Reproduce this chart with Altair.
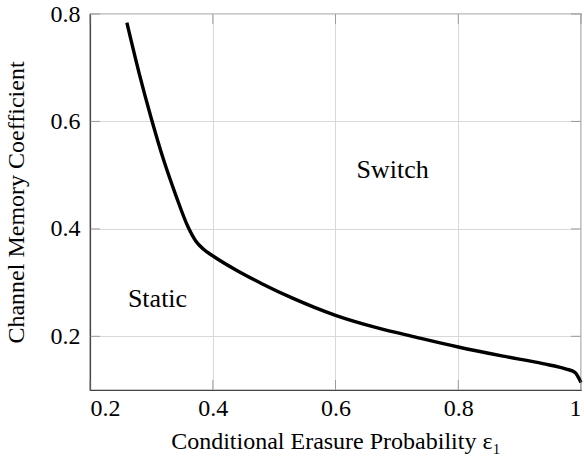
import altair as alt
import pandas as pd

# Curve data
eps1 = [0.26, 0.28, 0.30, 0.32, 0.34, 0.36, 0.372, 0.385, 0.401, 0.44, 0.48,
        0.53, 0.60, 0.667, 0.732, 0.80, 0.873, 0.938, 0.976, 0.99, 1.0]
memory = [0.784, 0.69, 0.605, 0.528, 0.462, 0.403, 0.378, 0.362, 0.349, 0.322, 0.298,
          0.271, 0.239, 0.216, 0.198, 0.180, 0.163, 0.149, 0.139, 0.133, 0.114]

region_labels = ["Switch", "Static"]
region_x = [0.693, 0.31]
region_y = [0.51, 0.27]

x_ticks = [0.2, 0.4, 0.6, 0.8, 1.0]
y_ticks = [0.2, 0.4, 0.6, 0.8]

W, H = 491, 376
FONT = "'Liberation Serif', 'Times New Roman', Times, serif"

curve = pd.DataFrame({"x": eps1, "y": memory})
labels = pd.DataFrame({"label": region_labels, "x": region_x, "y": region_y})
xt = pd.DataFrame({"x": x_ticks})
yt = pd.DataFrame({"y": y_ticks})

xscale = alt.Scale(domain=[0.2, 1.0], nice=False, zero=False)
yscale = alt.Scale(domain=[0.1, 0.8], nice=False, zero=False)

xaxis = alt.Axis(values=x_ticks, format=".1~f", title="Conditional Erasure Probability ε₁",
                 labelPadding=6, labelBaseline="top", titleY=58, titleBaseline="alphabetic")
yaxis = alt.Axis(values=y_ticks, format=".1~f", title="Channel Memory Coefficient",
                 labelPadding=10, titleX=-74, titleY=H / 2, titleBaseline="middle",
                 titleAngle=-90)

line = alt.Chart(curve).mark_line(color="black", strokeWidth=3.4, interpolate="monotone").encode(
    x=alt.X("x:Q", scale=xscale, axis=xaxis),
    y=alt.Y("y:Q", scale=yscale, axis=yaxis),
)

text = alt.Chart(labels).mark_text(font=FONT, fontSize=26, color="black",
                                    align="center", baseline="middle").encode(
    x=alt.X("x:Q", scale=xscale),
    y=alt.Y("y:Q", scale=yscale),
    text="label:N",
)

TICK_COLOR = "#808080"
tick_bottom = alt.Chart(xt).mark_tick(color=TICK_COLOR, size=10, thickness=1).encode(
    x=alt.X("x:Q", scale=xscale), y=alt.value(H - 5))
tick_top = alt.Chart(xt).mark_tick(color=TICK_COLOR, size=10, thickness=1).encode(
    x=alt.X("x:Q", scale=xscale), y=alt.value(5))
tick_left = alt.Chart(yt).mark_tick(color=TICK_COLOR, size=10, thickness=1).encode(
    y=alt.Y("y:Q", scale=yscale), x=alt.value(5))
tick_right = alt.Chart(yt).mark_tick(color=TICK_COLOR, size=10, thickness=1).encode(
    y=alt.Y("y:Q", scale=yscale), x=alt.value(W - 5))

chart = alt.layer(line, tick_bottom, tick_top, tick_left, tick_right, text).properties(
    width=W, height=H,
    autosize=alt.AutoSizeParams(type="none"),
    padding={"left": 90, "top": 14, "right": 3, "bottom": 70},
).configure_view(
    stroke="#333333", strokeWidth=1.2
).configure_axis(
    grid=True, gridColor="#d9d9d9", gridWidth=1,
    ticks=False, domainColor="#444444", domainWidth=1.2,
    labelFont=FONT, labelFontSize=24, labelColor="black",
    titleFont=FONT, titleFontSize=24, titleColor="black", titleFontWeight="normal",
)

chart.save("out.html", embed_options={"renderer": "svg", "actions": False})
